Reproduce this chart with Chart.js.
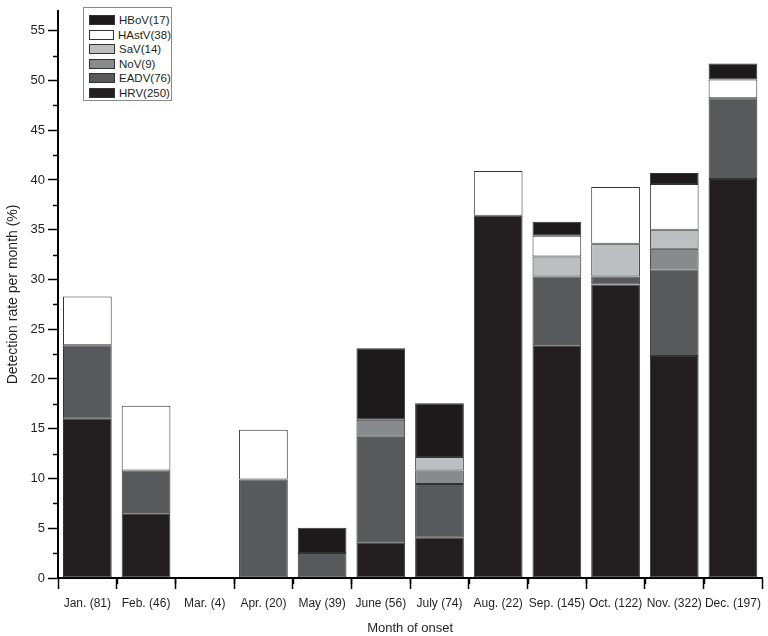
<!DOCTYPE html>
<html>
<head>
<meta charset="utf-8">
<script src="https://cdn.jsdelivr.net/npm/chart.js@4/dist/chart.umd.min.js"></script>
<style>
  html, body { margin: 0; padding: 0; background: #fff; }
  #wrap { position: relative; width: 768px; height: 636px; }
  #legend {
    position: absolute; left: 83px; top: 7px; width: 89px; height: 94px;
    border: 1px solid #8a8a8a; background: #fff; box-sizing: border-box;
    padding: 5px 0 0 5px;
    font: 11.5px 'Liberation Sans', Arial, sans-serif;
    color: #231f20;
  }
  .item { height: 14.5px; display: flex; align-items: center; }
  .sw { width: 26px; height: 10px; border: 1px solid #333; box-sizing: border-box; margin-right: 4px; }
</style>
</head>
<body>
<div id="wrap">
  <canvas id="chart" width="768" height="636"></canvas>
  <div id="legend"></div>
</div>
<script>
// month labels with number of samples
const months = ['Jan. (81)', 'Feb. (46)', 'Mar. (4)', 'Apr. (20)', 'May (39)', 'June (56)',
                'July (74)', 'Aug. (22)', 'Sep. (145)', 'Oct. (122)', 'Nov. (322)', 'Dec. (197)'];

// detection rate per month (%), stacked bottom to top
const hrv   = [16.0, 6.5, 0, 0,   0,    3.6,  4.05, 36.4, 23.4, 29.5, 22.3, 40.1];
const eadv  = [7.4,  4.3, 0, 9.9, 2.5,  10.6, 5.4,  0,    6.9,  0.8,  8.7,  8.1];
const nov   = [0,    0,   0, 0,   0,    1.7,  1.35, 0,    0,    0,    2.1,  0];
const sav   = [0,    0,   0, 0,   0,    0,    1.35, 0,    2.0,  3.3,  1.9,  0];
const hastv = [4.9,  6.5, 0, 5.0, 0,    0,    0,    4.5,  2.1,  5.7,  4.6,  1.9];
const hbov  = [0,    0,   0, 0,   2.55, 7.2,  5.4,  0,    1.4,  0,    1.1,  1.6];

const yTicks = [0, 5, 10, 15, 20, 25, 30, 35, 40, 45, 50, 55];

const series = [
    { label: 'HRV(250)',  data: hrv,   color: '#231f20' },
    { label: 'EADV(76)',  data: eadv,  color: '#58595b' },
    { label: 'NoV(9)',    data: nov,   color: '#898a8d' },
    { label: 'SaV(14)',   data: sav,   color: '#bcbec0' },
    { label: 'HAstV(38)', data: hastv, color: '#ffffff' },
    { label: 'HBoV(17)',  data: hbov,  color: '#1c1a1b' }
];

const minorTicks = {
    id: 'minorTicks',
    afterDraw(chart) {
        const { ctx, scales: { x, y } } = chart;
        ctx.save();
        ctx.strokeStyle = '#000';
        ctx.lineWidth = 1.5;
        ctx.beginPath();
        for (let i = 0; i < yTicks.length; i++) {
            const py = Math.round(y.getPixelForValue(yTicks[i] + 2.5)) + 0.5;
            if (py < chart.chartArea.top) continue;
            ctx.moveTo(y.right - 5, py);
            ctx.lineTo(y.right, py);
        }
        for (let i = 1; i < months.length; i++) {
            const px = Math.round(x.getPixelForValue(i - 0.5)) + 0.5;
            ctx.moveTo(px, x.top);
            ctx.lineTo(px, x.top + 6);
        }
        ctx.stroke();
        ctx.restore();
    }
};

const chartConfig = {
    type: 'bar',
    data: {
        labels: months,
        datasets: series.map(s => ({
            label: s.label,
            data: s.data,
            backgroundColor: s.color,
            borderColor: '#333',
            borderWidth: 1,
            borderSkipped: false,
            categoryPercentage: 1,
            barPercentage: 0.83
        }))
    },
    options: {
        responsive: false,
        animation: false,
        layout: { padding: { top: 5, right: 1, left: 0, bottom: 0 } },
        plugins: { legend: { display: false }, tooltip: { enabled: false } },
        scales: {
            x: {
                stacked: true,
                afterFit: s => { s.height = 58; },
                grid: { drawOnChartArea: false, tickLength: 11, tickColor: '#000', tickWidth: 1.5 },
                border: { color: '#000', width: 2 },
                ticks: {
                    color: '#231f20', padding: 7, maxRotation: 0, autoSkip: false,
                    font: { family: "'Liberation Sans', Arial", size: 12 }
                },
                title: {
                    display: true, text: 'Month of onset', color: '#231f20',
                    padding: { top: 0, bottom: 0 },
                    font: { family: "'Liberation Sans', Arial", size: 13 }
                }
            },
            y: {
                stacked: true,
                min: 0,
                max: 57,
                afterFit: s => { s.width = 58; },
                afterBuildTicks: s => { s.ticks = yTicks.map(v => ({ value: v })); },
                grid: { drawOnChartArea: false, tickLength: 10, tickColor: '#000', tickWidth: 1.5 },
                border: { color: '#000', width: 2 },
                ticks: {
                    color: '#231f20', padding: 3,
                    font: { family: "'Liberation Sans', Arial", size: 13 }
                },
                title: {
                    display: true, text: 'Detection rate per month (%)', color: '#231f20',
                    padding: { top: 5, bottom: 0 },
                    font: { family: "'Liberation Sans', Arial", size: 14 }
                }
            }
        }
    },
    plugins: [minorTicks]
};

new Chart(document.getElementById('chart'), chartConfig);

// legend, top to bottom is reverse stack order
const legendNode = document.getElementById('legend');
series.slice().reverse().forEach(s => {
    const row = document.createElement('div');
    row.className = 'item';
    const sw = document.createElement('span');
    sw.className = 'sw';
    sw.style.background = s.color;
    const txt = document.createElement('span');
    txt.textContent = s.label;
    row.appendChild(sw);
    row.appendChild(txt);
    legendNode.appendChild(row);
});
</script>
</body>
</html>
